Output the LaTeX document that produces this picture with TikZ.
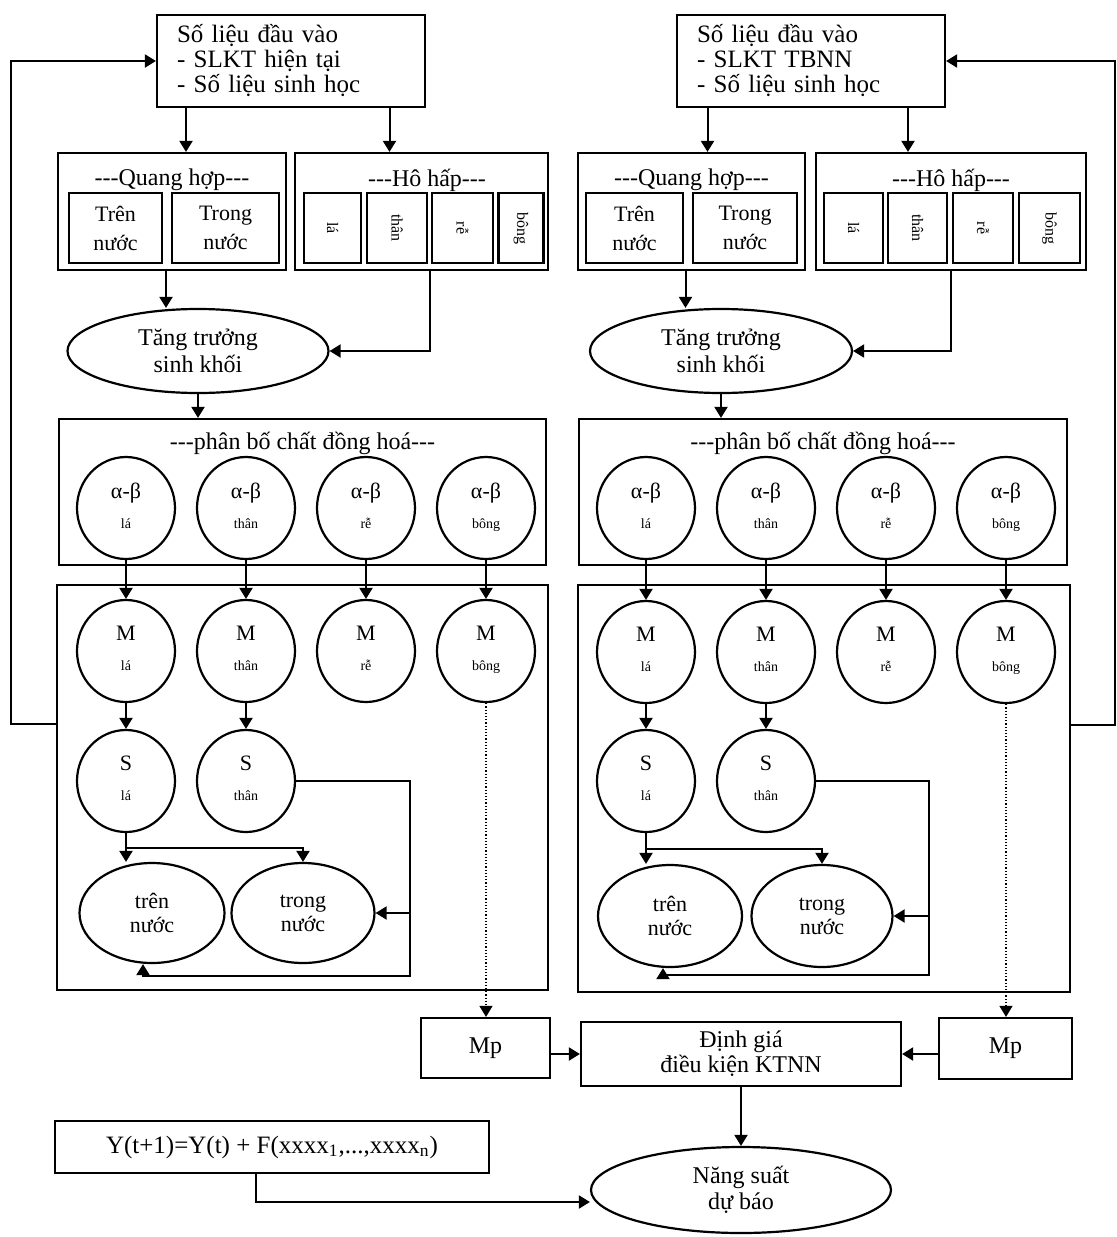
\documentclass[tikz,border=0pt]{standalone}
\usepackage{fontspec}
\setmainfont{Liberation Serif}
\usetikzlibrary{shapes.geometric, arrows.meta, positioning, calc}

\newcommand{\subtxt}[1]{{\fontsize{7}{8}\selectfont\strut #1}}

\begin{document}
\begin{tikzpicture}[x=0.5pt, y=-0.5pt,
  box/.style={draw, line width=1.1pt, inner sep=0pt, align=center, font=\fontsize{12}{13}\selectfont},
  oval/.style={ellipse, draw, line width=1.1pt, inner sep=0pt, align=center},
  ring/.style={ellipse, draw, line width=1.1pt, inner sep=0pt, align=center,
    minimum width=49pt, minimum height=51pt, font=\fontsize{11}{15}\selectfont},
  head/.style={inner sep=0pt, font=\fontsize{12}{13}\selectfont},
  vtxt/.style={rotate=-90, inner sep=0pt, font=\fontsize{8}{9}\selectfont},
  arr/.style={-{Triangle[length=5.5pt, width=6.5pt]}, line width=1pt},
  dotarr/.style={densely dotted, line width=0.6pt, -{Triangle[length=5.5pt, width=6.5pt]}}
]
  \useasboundingbox (0,0) rectangle (1116,1237);

  % Input data
  \node[box, minimum width=134pt, minimum height=46pt, text width=114pt, align=left, font=\fontsize{12.5}{12.5}\selectfont]
    (inL) at (291,61) {Số liệu đầu vào\\- SLKT hiện tại\\- Số liệu sinh học};
  \node[box, minimum width=134pt, minimum height=46pt, text width=114pt, align=left, font=\fontsize{12.5}{12.5}\selectfont]
    (inR) at (811,61) {Số liệu đầu vào\\- SLKT TBNN\\- Số liệu sinh học};

  % Photosynthesis / respiration, left
  \node[box, minimum width=114pt, minimum height=58.5pt] (qhL) at (172,211.5) {};
  \node[head] (tqL) at (172,180) {-{}-{}-Quang hợp-{}-{}-};
  \node[box, minimum width=46.5pt, minimum height=35pt, font=\fontsize{11}{14.5}\selectfont] (qL1) at (115.5,228) {Trên\\nước};
  \node[box, minimum width=53.5pt, minimum height=35pt, font=\fontsize{11}{14.5}\selectfont] (qL2) at (225.5,228) {Trong\\nước};
  \node[box, minimum width=126.5pt, minimum height=58.5pt] (hhL) at (421.5,211.5) {};
  \node[head] (thL) at (427,180) {-{}-{}-Hô hấp-{}-{}-};
  \node[box, minimum width=28.5pt, minimum height=35pt, label={[vtxt]center:lá}] (hL1) at (332.5,228) {};
  \node[box, minimum width=30pt, minimum height=35pt, label={[vtxt]center:thân}] (hL2) at (397,228) {};
  \node[box, minimum width=30.5pt, minimum height=35pt, label={[vtxt]center:rễ}] (hL3) at (462.5,228) {};
  \node[box, minimum width=22.5pt, minimum height=35pt, label={[vtxt]center:bông}] (hL4) at (521,228) {};

  % Photosynthesis / respiration, right
  \node[box, minimum width=113.5pt, minimum height=58.5pt] (qhR) at (691.5,211.5) {};
  \node[head] (tqR) at (691.5,180) {-{}-{}-Quang hợp-{}-{}-};
  \node[box, minimum width=48.5pt, minimum height=35pt, font=\fontsize{11}{14.5}\selectfont] (qR1) at (634.5,228) {Trên\\nước};
  \node[box, minimum width=52pt, minimum height=35pt, font=\fontsize{11}{14.5}\selectfont] (qR2) at (745,228) {Trong\\nước};
  \node[box, minimum width=135pt, minimum height=58.5pt] (hhR) at (951,211.5) {};
  \node[head] (thR) at (951,180) {-{}-{}-Hô hấp-{}-{}-};
  \node[box, minimum width=29.5pt, minimum height=35pt, label={[vtxt]center:lá}] (hR1) at (853.5,228) {};
  \node[box, minimum width=29.5pt, minimum height=35pt, label={[vtxt]center:thân}] (hR2) at (917.5,228) {};
  \node[box, minimum width=30pt, minimum height=35pt, label={[vtxt]center:rễ}] (hR3) at (983,228) {};
  \node[box, minimum width=30.5pt, minimum height=35pt, label={[vtxt]center:bông}] (hR4) at (1049.5,228) {};

  % Biomass growth
  \node[oval, minimum width=130.5pt, minimum height=42pt, font=\fontsize{12}{13.5}\selectfont]
    (ttL) at (198,351) {Tăng trưởng\\sinh khối};
  \node[oval, minimum width=131pt, minimum height=42pt, font=\fontsize{12}{13.5}\selectfont]
    (ttR) at (721,351) {Tăng trưởng\\sinh khối};

  % Partitioning
  \node[box, minimum width=243.5pt, minimum height=73pt] (pbL) at (302.5,492) {};
  \node[head] (tpL) at (302.5,443) {-{}-{}-phân bố chất đồng hoá-{}-{}-};
  \node[ring] (abL1) at (126,508) {α-β\\\subtxt{lá}};
  \node[ring] (abL2) at (246,508) {α-β\\\subtxt{thân}};
  \node[ring] (abL3) at (366,508) {α-β\\\subtxt{rễ}};
  \node[ring] (abL4) at (486,508) {α-β\\\subtxt{bông}};
  \node[box, minimum width=244pt, minimum height=73pt] (pbR) at (823,492) {};
  \node[head] (tpR) at (823,443) {-{}-{}-phân bố chất đồng hoá-{}-{}-};
  \node[ring] (abR1) at (646,508) {α-β\\\subtxt{lá}};
  \node[ring] (abR2) at (766,508) {α-β\\\subtxt{thân}};
  \node[ring] (abR3) at (886,508) {α-β\\\subtxt{rễ}};
  \node[ring] (abR4) at (1006,508) {α-β\\\subtxt{bông}};

  % Organ mass, left
  \node[box, minimum width=245.5pt, minimum height=202.5pt] (lowL) at (302.5,787.5) {};
  \node[ring] (mL1) at (126,651) {M\\\subtxt{lá}};
  \node[ring] (mL2) at (246,651) {M\\\subtxt{thân}};
  \node[ring] (mL3) at (366,651) {M\\\subtxt{rễ}};
  \node[ring] (mL4) at (486,651) {M\\\subtxt{bông}};
  \node[ring] (sL1) at (126,781) {S\\\subtxt{lá}};
  \node[ring] (sL2) at (246,781) {S\\\subtxt{thân}};
  \node[oval, minimum width=72.5pt, minimum height=50pt, font=\fontsize{11}{12}\selectfont] (trL) at (152,913) {trên\\nước};
  \node[oval, minimum width=71.5pt, minimum height=50pt, font=\fontsize{11}{12}\selectfont] (tgL) at (303,913) {trong\\nước};

  % Organ mass, right
  \node[box, minimum width=246pt, minimum height=203.5pt] (lowR) at (824,788.5) {};
  \node[ring] (mR1) at (646,652) {M\\\subtxt{lá}};
  \node[ring] (mR2) at (766,652) {M\\\subtxt{thân}};
  \node[ring] (mR3) at (886,652) {M\\\subtxt{rễ}};
  \node[ring] (mR4) at (1006,652) {M\\\subtxt{bông}};
  \node[ring] (sR1) at (646,781) {S\\\subtxt{lá}};
  \node[ring] (sR2) at (766,781) {S\\\subtxt{thân}};
  \node[oval, minimum width=72pt, minimum height=51pt, font=\fontsize{11}{12}\selectfont] (trR) at (670,916) {trên\\nước};
  \node[oval, minimum width=70.5pt, minimum height=51pt, font=\fontsize{11}{12}\selectfont] (tgR) at (822,916) {trong\\nước};

  % Yield
  \node[box, minimum width=64.5pt, minimum height=30pt] (mpL) at (485.5,1048) {Mp};
  \node[box, minimum width=66.5pt, minimum height=30.5pt] (mpR) at (1005.5,1048.5) {Mp};
  \node[box, minimum width=160pt, minimum height=32pt, font=\fontsize{12}{12.5}\selectfont] (dg) at (741,1054) {Định giá\\điều kiện KTNN};
  \node[oval, minimum width=150pt, minimum height=43pt, font=\fontsize{12}{13}\selectfont] (ns) at (741,1190) {Năng suất\\dự báo};
  \node[box, minimum width=217pt, minimum height=26pt, font=\fontsize{12.5}{13}\selectfont] (fm) at (272,1147)
    {Y(t+1)=Y(t) + F(xxxx\textsubscript{1},...,xxxx\textsubscript{n})};

  % Top arrows
  \coordinate (aL1) at ([xshift=7pt]qhL.north);
  \coordinate (aL2) at ([xshift=-16pt]hhL.north);
  \coordinate (aR1) at ([xshift=8pt]qhR.north);
  \coordinate (aR2) at ([xshift=-21.5pt]hhR.north);
  \draw[arr] (aL1 |- inL.south) -- (aL1);
  \draw[arr] (aL2 |- inL.south) -- (aL2);
  \draw[arr] (aR1 |- inR.south) -- (aR1);
  \draw[arr] (aR2 |- inR.south) -- (aR2);
  \coordinate (bL1) at ([xshift=-3pt]qhL.south);
  \coordinate (bR1) at ([xshift=-3pt]qhR.south);
  \draw[arr] (bL1) -- (bL1 |- ttL.north);
  \draw[arr] (bR1) -- (bR1 |- ttR.north);
  \draw[arr] ([xshift=4pt]hhL.south) |- (ttL.east);
  \draw[arr] (hhR.south) |- (ttR.east);
  \draw[arr] (ttL.south) -- (ttL.south |- pbL.north);
  \draw[arr] (ttR.south) -- (ttR.south |- pbR.north);

  % Partitioning to mass
  \draw[arr] (abL1) -- (mL1);
  \draw[arr] (abL2) -- (mL2);
  \draw[arr] (abL3) -- (mL3);
  \draw[arr] (abL4) -- (mL4);
  \draw[arr] (abR1) -- (mR1);
  \draw[arr] (abR2) -- (mR2);
  \draw[arr] (abR3) -- (mR3);
  \draw[arr] (abR4) -- (mR4);
  \draw[arr] (mL1) -- (sL1);
  \draw[arr] (mL2) -- (sL2);
  \draw[arr] (mR1) -- (sR1);
  \draw[arr] (mR2) -- (sR2);

  % Leaf area, left
  \draw[arr] (sL1.south) -- (sL1.south |- trL.north);
  \draw[arr] ($(sL1.south)!0.5!(sL1.south |- trL.north)$) -| (tgL.north);
  \coordinate (lpL) at ([xshift=57pt]sL2.east);
  \coordinate (btL) at ([yshift=-6pt]trL.south);
  \draw[arr] (sL2.east) -| (lpL |- btL) -| ([xshift=-4.5pt]trL.south);
  \draw[arr] (lpL |- tgL.east) -- (tgL.east);

  % Leaf area, right
  \draw[arr] (sR1.south) -- (sR1.south |- trR.north);
  \draw[arr] ($(sR1.south)!0.5!(sR1.south |- trR.north)$) -| (tgR.north);
  \coordinate (lpR) at ([xshift=56.5pt]sR2.east);
  \coordinate (btR) at ([yshift=-3.5pt]trR.south);
  \draw[arr] (sR2.east) -| (lpR |- btR) -| ([xshift=-3.5pt]trR.south);
  \draw[arr] (lpR |- tgR.east) -- (tgR.east);

  % Panicle mass to yield
  \draw[dotarr] (mL4.south) -- (mL4.south |- mpL.north);
  \draw[dotarr] (mR4.south) -- (mR4.south |- mpR.north);
  \draw[arr] (dg.west -| mpL.east) -- (dg.west);
  \draw[arr] (dg.east -| mpR.west) -- (dg.east);
  \draw[arr] (dg.south) -- (ns.north);
  \draw[arr] ([xshift=-8pt]fm.south) |- ([yshift=-6pt]ns.west);

  % Feedback loops
  \coordinate (fbL) at ([xshift=-22.5pt]lowL.west);
  \coordinate (fbR) at ([xshift=22pt]lowR.east);
  \draw[arr] ([yshift=32pt]lowL.west) -| (fbL |- inL.west) -- (inL.west);
  \draw[arr] ([yshift=32pt]lowR.east) -| (fbR |- inR.east) -- (inR.east);
\end{tikzpicture}
\end{document}
